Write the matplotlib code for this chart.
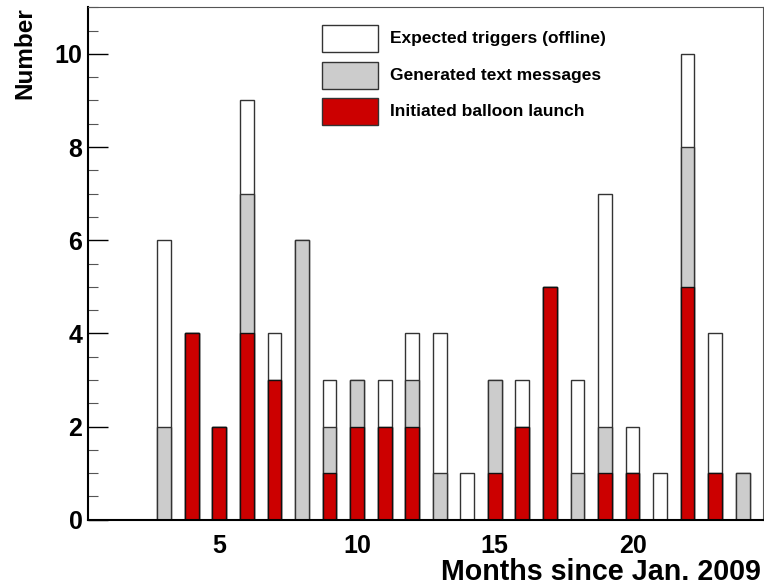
import numpy as np
import matplotlib.pyplot as plt
from matplotlib.patches import Rectangle
from matplotlib.ticker import MultipleLocator

plt.rcParams['font.family'] = ['Liberation Sans', 'DejaVu Sans']
plt.rcParams['font.weight'] = 'bold'

# monthly counts, months since Jan. 2009
months = np.arange(3, 25)
expected = [6, 4, 2, 9, 4, 6, 3, 3, 3, 4, 4, 1, 3, 3, 5, 3, 7, 2, 1, 10, 4, 1]
messages = [2, 4, 2, 7, 3, 6, 2, 3, 2, 3, 1, 0, 3, 2, 5, 1, 2, 1, 0, 8, 1, 1]
launches = [0, 4, 2, 4, 3, 0, 1, 2, 2, 2, 0, 0, 1, 2, 5, 0, 1, 1, 0, 5, 1, 0]

labels = ['Expected triggers (offline)', 'Generated text messages', 'Initiated balloon launch']
colors = ['white', '#cccccc', '#cc0000']
edges = ['#333333', '#333333', '#111111']

W, H = 764, 586
fig = plt.figure(figsize=(W / 100, H / 100), dpi=100)
ax = fig.add_axes([88 / W, 1 - 519.7 / H, (762.5 - 88) / W, (519.7 - 7.3) / H])

for vals, c, e in zip([expected, messages, launches], colors, edges):
    v = np.array(vals)
    m = v > 0
    ax.bar(months[m], v[m], width=0.5, color=c, edgecolor=e, linewidth=1.0, zorder=2)

ax.set_xlim(0.23, 24.72)
ax.set_ylim(0, 11)
ax.set_xticks([5, 10, 15, 20])
ax.yaxis.set_major_locator(MultipleLocator(2))
ax.yaxis.set_minor_locator(MultipleLocator(0.5))
ax.tick_params(axis='x', length=0, pad=10, labelsize=18)
ax.tick_params(axis='y', which='major', direction='in', length=14.4, width=1.0, pad=4, labelsize=18)
ax.tick_params(axis='y', which='minor', direction='in', length=7.2, width=0.8, color='#555555')
for s in ['left', 'bottom']:
    ax.spines[s].set_linewidth(1.5)
for s in ['top', 'right']:
    ax.spines[s].set_linewidth(0.8)
    ax.spines[s].set_color('#555555')

fig.text(760.5 / W, 1 - 580 / H, 'Months since Jan. 2009', ha='right', va='baseline',
         fontsize=20.6, fontweight='bold')
fig.text(13 / W, 1 - 7.3 / H, 'Number', ha='left', va='top', rotation=90,
         fontsize=17.5, fontweight='bold')

# legend boxes
rows = [25, 62, 98]
for r, lab, c in zip(rows, labels, colors):
    fig.patches.append(Rectangle((322 / W, 1 - (r + 27) / H), 56 / W, 27 / H,
                                 transform=fig.transFigure, facecolor=c,
                                 edgecolor='#333333', linewidth=1.0))
    fig.text(390 / W, 1 - (r + 13.5) / H, lab, ha='left', va='center',
             fontsize=12.5, fontweight='bold')

fig.savefig('out.png', dpi=100)
